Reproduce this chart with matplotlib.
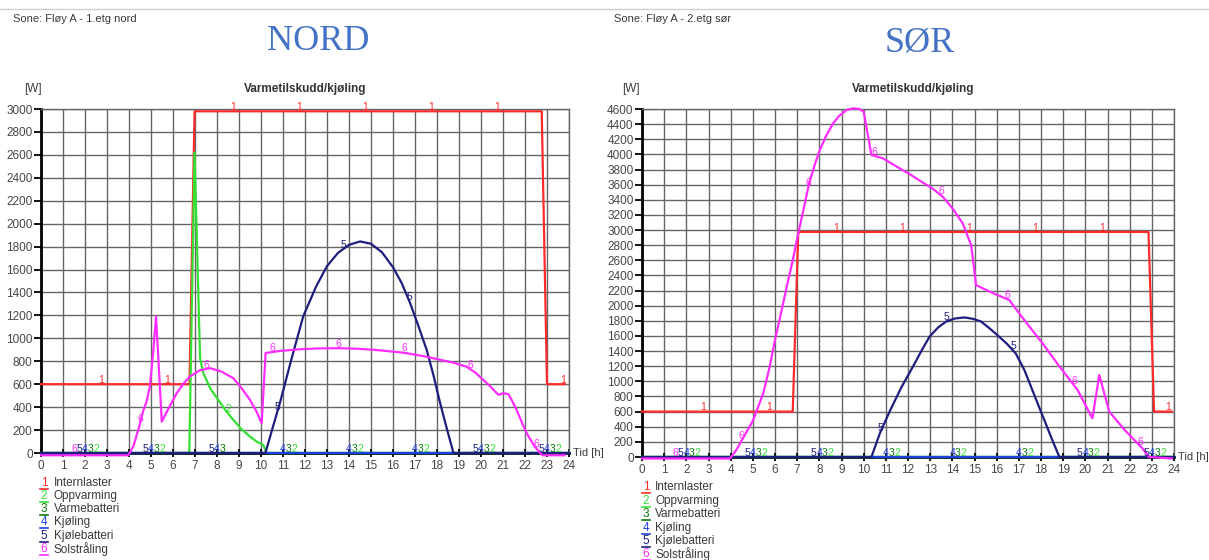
import matplotlib
matplotlib.use("Agg")
import matplotlib.pyplot as plt
import numpy as np
from matplotlib.lines import Line2D

W, H = 1209, 560

SERIES_NAMES = ["Internlaster", "Oppvarming", "Varmebatteri", "Kjøling", "Kjølebatteri", "Solstråling"]
SERIES_COLORS = ["#ff2b2b", "#33e033", "#0a7a0a", "#1f3fe6", "#1e1e7e", "#ff2cff"]

# Zone 1.etg nord, hourly loads [W]
nord_int_t = [0, 6.75, 6.98, 22.76, 23.0, 23.8]
nord_int_w = [600, 600, 2980, 2980, 600, 600]
nord_heat_t = [0, 6.74, 6.98, 7.23, 7.38, 7.7, 8.06, 8.4, 8.74, 9.1, 9.5, 9.8, 10.1, 10.26, 24]
nord_heat_w = [0, 0, 2620, 828, 697, 560, 463, 370, 289, 210, 143, 100, 70, 0, 0]
nord_cool_t = [0, 10.2, 10.5, 10.86, 11.4, 11.92, 12.5, 13.0, 13.5, 14.0, 14.5, 15.0, 15.5,
               16.0, 16.4, 16.77, 17.15, 17.53, 17.85, 18.14, 18.45, 18.75, 24]
nord_cool_w = [0, 0, 200, 437, 830, 1192, 1450, 1630, 1745, 1815, 1845, 1825, 1750,
               1620, 1480, 1311, 1110, 900, 670, 437, 210, 0, 0]
nord_sun_t = [0, 3.97, 4.2, 4.42, 4.65, 4.8, 4.95, 5.1, 5.23, 5.49, 5.8, 6.17, 6.5, 6.77,
              7.2, 7.68, 8.2, 8.74, 9.1, 9.5, 9.8, 10.03, 10.21, 10.86, 11.8, 12.6, 13.5,
              14.3, 15.0, 15.7, 16.45, 17.0, 17.5, 18.14, 18.8, 19.35, 19.75, 20.1, 20.45,
              20.79, 21.0, 21.24, 21.4, 21.62, 21.85, 22.08, 22.3, 22.45, 22.68, 22.8, 23.8]
nord_sun_w = [-20, -20, 60, 200, 370, 450, 580, 880, 1190, 274, 390, 522, 610, 667,
              720, 740, 710, 653, 570, 463, 360, 260, 872, 890, 905, 912, 914,
              910, 902, 890, 875, 858, 840, 813, 785, 752, 700, 638, 575,
              507, 522, 513, 460, 376, 270, 172, 100, 55, 3, -20, -20]

# Zone 2.etg sør, hourly loads [W]
sor_int_t = [0, 6.8, 7.05, 22.85, 23.1, 23.9]
sor_int_w = [600, 600, 2975, 2975, 600, 600]
sor_cool_t = [0, 10.35, 10.73, 11.2, 11.7, 12.22, 12.6, 12.97, 13.35, 13.72, 14.1, 14.55,
              14.95, 15.3, 15.68, 16.0, 16.45, 16.86, 17.25, 17.61, 17.9, 18.21, 18.5,
              18.83, 24]
sor_cool_w = [0, 0, 313, 620, 920, 1193, 1400, 1590, 1710, 1790, 1830, 1845,
              1825, 1790, 1700, 1620, 1500, 1370, 1150, 885, 670, 445, 230,
              0, 0]
sor_sun_t = [0, 3.97, 4.25, 4.5, 5.02, 5.47, 5.75, 6.0, 6.27, 6.53, 6.8, 7.05, 7.3, 7.54,
             7.8, 8.02, 8.3, 8.62, 8.9, 9.23, 9.52, 9.8, 10.0, 10.35, 10.87, 11.62, 12.1,
             12.6, 13.1, 13.57, 14.0, 14.47, 14.85, 15.07, 15.8, 16.57, 17.3, 18.07, 18.8,
             19.65, 20.32, 20.63, 21.08, 21.8, 22.57, 22.87, 23.9]
sor_sun_w = [-20, -20, 90, 220, 489, 842, 1180, 1547, 1900, 2251, 2600, 2957, 3290, 3618,
             3870, 4058, 4240, 4411, 4510, 4587, 4609, 4600, 4565, 3992, 3948, 3816, 3735,
             3640, 3550, 3439, 3290, 3087, 2800, 2272, 2170, 2074, 1790, 1502, 1210,
             886, 511, 1084, 599, 350, 115, 0, -20]

zero_t = [0, 24]
zero_w = [0, 0]

nord_series = [(nord_int_t, nord_int_w), (nord_heat_t, nord_heat_w), (zero_t, zero_w),
               (zero_t, zero_w), (nord_cool_t, nord_cool_w), (nord_sun_t, nord_sun_w)]
sor_series = [(sor_int_t, sor_int_w), (zero_t, zero_w), (zero_t, zero_w),
              (zero_t, zero_w), (sor_cool_t, sor_cool_w), (sor_sun_t, sor_sun_w)]

plt.rcParams["font.family"] = ["Liberation Sans", "DejaVu Sans"]

fig = plt.figure(figsize=(W / 100, H / 100), dpi=100)


def fx(px):
    return px / W


def fy(py):
    return 1 - py / H


def add_panel(box, series, ymax):
    x0, x1, ytop, ybot = box
    ax = fig.add_axes([fx(x0), fy(ybot), fx(x1 - x0), (ybot - ytop) / H])
    for i, ((t, w), color) in enumerate(zip(series, SERIES_COLORS)):
        ax.plot(t, w, color=color, lw=1.6, clip_on=False, zorder=3 + i)
    # series numbers every third hour, staggered per series
    for i, ((t, w), color) in enumerate(zip(series, SERIES_COLORS)):
        start = 2.75 - 0.25 * i
        for h in np.arange(start, 24, 3):
            ax.annotate(str(i + 1), (h, max(np.interp(h, t, w), 0)), xytext=(0, 1),
                        textcoords="offset points", ha="center", va="baseline",
                        fontsize=7.5, color=color, zorder=10, annotation_clip=False)
    ax.set_xlim(0, 24)
    ax.set_ylim(0, ymax)
    ax.set_xticks(range(25))
    ax.set_yticks(range(0, ymax + 1, 200))
    ax.grid(True, color="#666666", lw=1.0)
    ax.set_axisbelow(True)
    for side in ("top", "right"):
        ax.spines[side].set_color("#666666")
        ax.spines[side].set_linewidth(1.0)
    for side in ("left", "bottom"):
        ax.spines[side].set_color("black")
        ax.spines[side].set_linewidth(2.0)
    ax.tick_params(axis="x", direction="inout", length=6, width=1.3, color="black",
                   labelsize=8.5, labelcolor="#474747", pad=2)
    ax.tick_params(axis="y", direction="out", length=5, width=1.3, color="black",
                   labelsize=8.5, labelcolor="#474747", pad=1)
    ax.annotate("Tid [h]", (1.0, 0), xycoords=ax.get_yaxis_transform(), xytext=(3, 0),
                textcoords="offset points", ha="left", va="center",
                fontsize=8, color="#3a3a3a", annotation_clip=False)
    return ax


def add_legend(x_num, x_lab, ys):
    for i, (name, color, y) in enumerate(zip(SERIES_NAMES, SERIES_COLORS, ys)):
        fig.text(fx(x_num), fy(y), str(i + 1), color=color, fontsize=8.5,
                 ha="center", va="center")
        fig.add_artist(Line2D([fx(x_num - 4), fx(x_num + 4)], [fy(y + 6), fy(y + 6)],
                              color=color, lw=1.2))
        fig.text(fx(x_lab), fy(y), name, color="#3a3a3a", fontsize=8.5,
                 ha="left", va="center")


fig.add_artist(Line2D([0, 1], [fy(9), fy(9)], color="#cfcfcf", lw=1.0))

# NORD
add_panel((41, 569, 109, 453), nord_series, 3000)
fig.text(fx(13), fy(19), "Sone: Fløy A - 1.etg nord", fontsize=8, color="#3a3a3a",
         ha="left", va="center")
fig.text(fx(318), fy(42), "NORD", fontsize=26, color="#4472c4",
         family="Liberation Serif", ha="center", va="center")
fig.text(fx(33), fy(89), "[W]", fontsize=8.5, color="#3a3a3a", ha="center", va="center")
fig.text(fx(305), fy(89), "Varmetilskudd/kjøling", fontsize=8.5, fontweight="bold",
         color="#333333", ha="center", va="center")
add_legend(44, 54, [483, 496, 509, 522, 536, 549])

# SØR
add_panel((642, 1174, 109, 457), sor_series, 4600)
fig.text(fx(614), fy(19), "Sone: Fløy A - 2.etg sør", fontsize=8, color="#3a3a3a",
         ha="left", va="center")
fig.text(fx(920), fy(43), "SØR", fontsize=26, color="#4472c4",
         family="Liberation Serif", ha="center", va="center")
fig.text(fx(631), fy(89), "[W]", fontsize=8.5, color="#3a3a3a", ha="center", va="center")
fig.text(fx(913), fy(89), "Varmetilskudd/kjøling", fontsize=8.5, fontweight="bold",
         color="#333333", ha="center", va="center")
add_legend(646, 655, [487, 501, 514, 528, 541, 554])

fig.savefig("out.png", dpi=100)
